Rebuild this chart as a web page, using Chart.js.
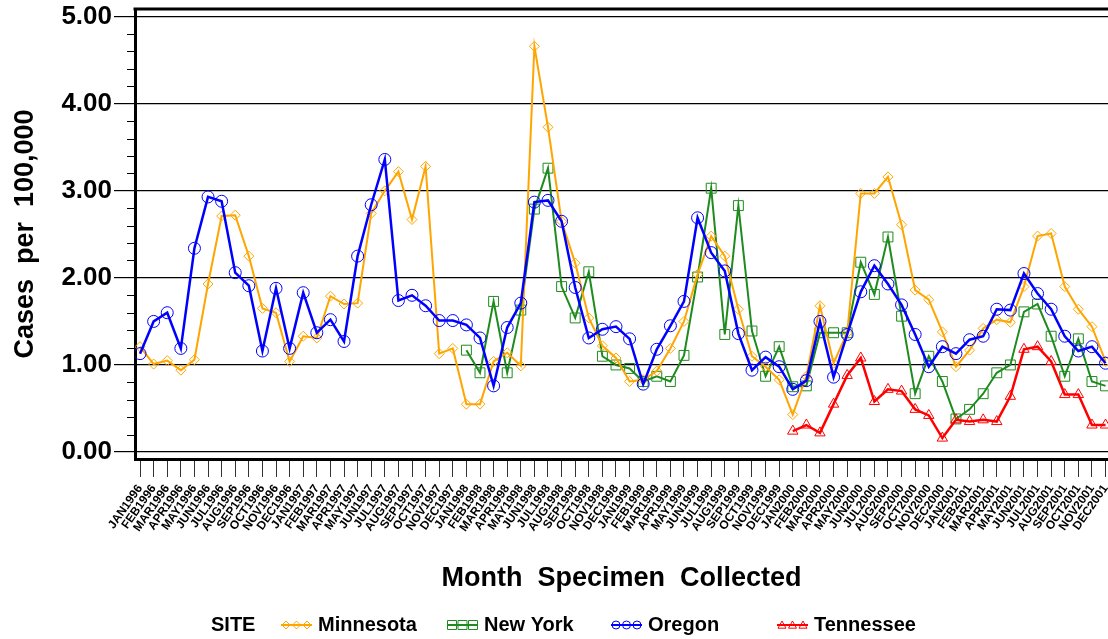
<!DOCTYPE html>
<html>
<head>
<meta charset="utf-8">
<script src="https://cdn.jsdelivr.net/npm/chart.js@4.4.1/dist/chart.umd.min.js"></script>
<style>
  html, body { margin: 0; padding: 0; background: #fff; }
  #wrap { width: 1108px; height: 639px; position: relative; overflow: hidden; }
</style>
</head>
<body>
<div id="wrap"><canvas id="chart" width="1108" height="639"></canvas></div>
<script>
const monthNames = ['JAN', 'FEB', 'MAR', 'APR', 'MAY', 'JUN', 'JUL', 'AUG', 'SEP', 'OCT', 'NOV', 'DEC'];
const years = [1996, 1997, 1998, 1999, 2000, 2001];
const monthLabels = years.flatMap(y => monthNames.map(m => m + y));
const yTicks = [0, 1, 2, 3, 4, 5];

// cases per 100,000, one value per month JAN1996..DEC2001
const minnesota = [
    1.21, 1.01, 1.05, 0.94, 1.06, 1.93, 2.71, 2.72, 2.25, 1.65, 1.60, 1.04,
    1.33, 1.31, 1.79, 1.70, 1.71, 2.74, 3.00, 3.22, 2.67, 3.28, 1.13, 1.19,
    0.55, 0.55, 1.04, 1.14, 0.99, 4.66, 3.73, 2.65, 2.17, 1.54, 1.22, 1.08,
    0.81, 0.83, 0.93, 1.19, 1.50, 2.04, 2.48, 2.25, 1.64, 1.10, 0.98, 0.83,
    0.43, 0.87, 1.68, 1.02, 1.37, 2.97, 2.97, 3.16, 2.61, 1.86, 1.75, 1.38,
    0.98, 1.17, 1.42, 1.52, 1.49, 1.90, 2.48, 2.51, 1.90, 1.64, 1.44, 1.04
];
const newYork = [
    null, null, null, null, null, null, null, null, null, null, null, null,
    null, null, null, null, null, null, null, null, null, null, null, null,
    1.17, 0.91, 1.73, 0.91, 1.63, 2.79, 3.26, 1.90, 1.54, 2.07, 1.10, 1.00,
    0.96, 0.81, 0.87, 0.81, 1.11, 2.01, 3.03, 1.35, 2.83, 1.39, 0.87, 1.21,
    0.75, 0.76, 1.37, 1.37, 1.37, 2.18, 1.81, 2.47, 1.56, 0.67, 1.10, 0.81,
    0.38, 0.49, 0.67, 0.91, 1.00, 1.61, 1.70, 1.33, 0.87, 1.30, 0.81, 0.76
];
const oregon = [
    1.13, 1.50, 1.60, 1.19, 2.34, 2.93, 2.88, 2.06, 1.91, 1.16, 1.88, 1.19,
    1.83, 1.37, 1.52, 1.27, 2.25, 2.84, 3.36, 1.74, 1.80, 1.68, 1.51, 1.51,
    1.46, 1.31, 0.76, 1.43, 1.71, 2.87, 2.89, 2.65, 1.89, 1.31, 1.41, 1.44,
    1.30, 0.78, 1.18, 1.45, 1.73, 2.69, 2.29, 2.08, 1.36, 0.94, 1.09, 0.98,
    0.72, 0.82, 1.50, 0.86, 1.35, 1.84, 2.14, 1.93, 1.69, 1.35, 0.98, 1.21,
    1.13, 1.29, 1.33, 1.64, 1.63, 2.05, 1.82, 1.64, 1.33, 1.16, 1.21, 1.02
];
const tennessee = [
    null, null, null, null, null, null, null, null, null, null, null, null,
    null, null, null, null, null, null, null, null, null, null, null, null,
    null, null, null, null, null, null, null, null, null, null, null, null,
    null, null, null, null, null, null, null, null, null, null, null, null,
    0.24, 0.31, 0.22, 0.55, 0.88, 1.08, 0.58, 0.72, 0.70, 0.49, 0.42, 0.16,
    0.37, 0.35, 0.37, 0.35, 0.64, 1.18, 1.21, 1.04, 0.66, 0.66, 0.31, 0.31
];

const FONT = 'Liberation Sans, Arial, sans-serif';
const toPoints = arr => arr.map((v, i) => ({ x: i, y: v }));
const noPadding = () => ({ left: 0, top: 0, right: 0, bottom: 0 });

const series = [
    { label: 'Minnesota', data: minnesota, color: '#FFA500', marker: 'rectRot', radius: 5, width: 2, order: 2, legendX: 281 },
    { label: 'New York', data: newYork, color: '#1E8B1E', marker: 'rect', radius: 7, width: 2, order: 3, legendX: 447 },
    { label: 'Oregon', data: oregon, color: '#0000FF', marker: 'circle', radius: 6, width: 2.5, order: 0, legendX: 611 },
    { label: 'Tennessee', data: tennessee, color: '#FF0000', marker: 'triangle', radius: 6, width: 2.5, order: 1, legendX: 777 }
];

const drawMarker = (ctx, style, x, y, r) => {
    ctx.beginPath();
    if (style === 'circle') {
        ctx.arc(x, y, r, 0, Math.PI * 2);
    } else if (style === 'rect') {
        ctx.rect(x - r, y - r, 2 * r, 2 * r);
    } else if (style === 'rectRot') {
        ctx.moveTo(x, y - r); ctx.lineTo(x + r, y); ctx.lineTo(x, y + r); ctx.lineTo(x - r, y); ctx.closePath();
    } else {
        ctx.moveTo(x, y - r); ctx.lineTo(x + r, y + r * 0.8); ctx.lineTo(x - r, y + r * 0.8); ctx.closePath();
    }
    ctx.stroke();
};

const extras = {
    id: 'extras',
    beforeLayout(chart) {
        // let the plot run right up to the canvas edge, like the original
        Object.values(chart.scales).forEach(s => { s.getPadding = noPadding; });
    },
    afterDraw(chart) {
        const { ctx, chartArea, scales } = chart;
        ctx.save();
        // top frame
        ctx.strokeStyle = '#000';
        ctx.lineWidth = 3;
        ctx.beginPath();
        ctx.moveTo(chartArea.left - 1.5, chartArea.top);
        ctx.lineTo(chart.width, chartArea.top);
        ctx.stroke();

        // minor ticks on y axis
        ctx.lineWidth = 1;
        for (let k = 1; k < 25; k++) {
            if (k % 5 === 0) continue;
            const py = Math.round(scales.y.getPixelForValue(k / 5)) + 0.5;
            ctx.beginPath();
            ctx.moveTo(chartArea.left - 8, py);
            ctx.lineTo(chartArea.left, py);
            ctx.stroke();
        }

        // legend
        const ly = 625;
        ctx.font = 'bold 20px ' + FONT;
        ctx.textBaseline = 'middle';
        ctx.fillStyle = '#000';
        ctx.fillText('SITE', 211, ly);
        series.forEach(s => {
            const x1 = s.legendX, x2 = s.legendX + 31;
            ctx.strokeStyle = s.color;
            ctx.lineWidth = 2;
            ctx.beginPath();
            ctx.moveTo(x1, ly);
            ctx.lineTo(x2, ly);
            ctx.stroke();
            ctx.lineWidth = 1;
            const r = s.marker === 'rect' ? 4.5 : 4;
            [x1 + 5, (x1 + x2) / 2, x2 - 5].forEach(mx => drawMarker(ctx, s.marker, mx, ly, r));
            ctx.fillStyle = '#000';
            ctx.fillText(s.label, x2 + 6, ly);
        });
        ctx.restore();
    }
};

const ctx = document.getElementById('chart').getContext('2d');
const chart = new Chart(ctx, {
    type: 'line',
    data: {
        datasets: series.map(s => ({
            label: s.label,
            data: toPoints(s.data),
            borderColor: s.color,
            borderWidth: s.width,
            pointStyle: s.marker,
            pointRadius: s.radius,
            pointBorderColor: s.color,
            pointBorderWidth: 1,
            pointBackgroundColor: 'rgba(0,0,0,0)',
            tension: 0,
            spanGaps: false,
            order: s.order
        }))
    },
    options: {
        responsive: false,
        animation: false,
        layout: { autoPadding: false, padding: { top: 9, bottom: 44, left: 0, right: 0 } },
        plugins: { legend: { display: false }, tooltip: { enabled: false } },
        scales: {
            x: {
                type: 'linear',
                min: -0.37,
                max: 71.18,
                afterBuildTicks: s => { s.ticks = monthLabels.map((_, i) => ({ value: i })); },
                afterFit: s => { s.height = 136; },
                ticks: {
                    autoSkip: false,
                    minRotation: 55,
                    maxRotation: 55,
                    padding: 5,
                    color: '#000',
                    font: { family: FONT, weight: 'bold', size: 12 },
                    callback: v => monthLabels[v]
                },
                grid: { drawOnChartArea: false, tickLength: 18, color: '#333', lineWidth: 1 },
                border: { display: true, color: '#000', width: 3 },
                title: {
                    display: true,
                    text: 'Month  Specimen  Collected',
                    color: '#000',
                    font: { family: FONT, weight: 'bold', size: 27 },
                    padding: { top: 0, bottom: 0 }
                }
            },
            y: {
                min: -0.08,
                max: 5.088,
                afterBuildTicks: s => { s.ticks = yTicks.map(v => ({ value: v })); },
                afterFit: s => { s.width = 135; },
                ticks: {
                    color: '#000',
                    padding: 2,
                    font: { family: FONT, weight: 'bold', size: 26 },
                    callback: v => v.toFixed(2)
                },
                grid: { color: '#000', lineWidth: 1.2, tickLength: 21 },
                border: { display: true, color: '#000', width: 3 },
                title: {
                    display: true,
                    text: 'Cases  per  100,000',
                    color: '#000',
                    font: { family: FONT, weight: 'bold', size: 27 },
                    padding: { top: 9, bottom: 0 }
                }
            }
        }
    },
    plugins: [extras]
});
</script>
</body>
</html>
